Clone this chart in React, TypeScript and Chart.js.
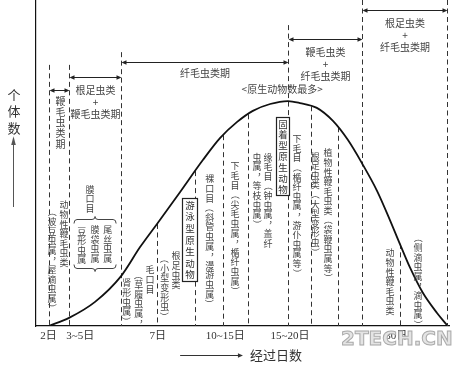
import React, { useEffect, useRef } from 'react';
import { Chart, registerables } from 'chart.js';

Chart.register(...registerables);

// ---- data (x: relative time axis 0-100, y: relative individual count 0-100) ----
const curveX = [3.1, 8.0, 14.3, 20.6, 25.2, 29.3, 34.9, 40.4, 44.6, 48.7, 52.5, 56.7, 61.0, 63.9, 68.0, 71.9, 75.5, 78.9, 82.6, 85.7, 88.1, 90.6, 93.7, 97.1, 99.5];
const curveY = [0, 2.5, 7.4, 15.3, 24.2, 31.3, 41.1, 50.9, 57.7, 62.6, 66.0, 68.1, 69.0, 68.4, 66.9, 62.9, 57.1, 50.0, 41.4, 32.5, 25.2, 17.8, 10.1, 4.0, 0.3];

const tickValues = [3.0, 10.7, 29.5, 45.8, 61.5, 87.2];
const tickLabels = ['2日', '3~5日', '7日', '10~15日', '15~20日', '30日'];

const boundaryX = [3.1, 8.0, 20.6, 29.3, 38.5, 45.3, 51.3, 61.0, 66.6, 73.1, 78.9, 88.1, 99.5];
// null = the dashed line starts on the curve
const boundaryTop: (number | null)[] = [80.1, 80.1, 84.0, null, null, null, null, 92.3, null, null, 100, null, 100];

const periodFrom = [3.1, 8.0, 20.6, 61.0, 78.9];
const periodTo = [8.0, 20.6, 61.0, 78.9, 99.5];
const periodLevel = [72.4, 76.4, 81.0, 88.0, 96.9];
const periodLabels = [
  ['鞭毛虫类期'],
  ['根足虫类', '+', '鞭毛虫类期'],
  ['纤毛虫类期'],
  ['鞭毛虫类', '+', '纤毛虫类期'],
  ['根足虫类', '+', '纤毛虫类期'],
];

const peakLabel = '<原生动物数最多>';
const yTitle = '个体数';
const xTitle = '经过日数';

// vertical column labels: [text, x, y of first character]
const columnLabels: [string, number, number][] = [
  ['动物性鞭毛虫类', 6.8, 37.1],
  ['（波豆虫属，屋滴虫属）', 3.9, 35.0],
  ['膜口目', 13.1, 42.0],
  ['豆形虫属', 11.1, 29.1],
  ['膜袋虫属', 14.3, 29.6],
  ['尾丝虫属', 17.4, 29.6],
  ['毛口目', 27.6, 17.2],
  ['（草履虫属，', 24.9, 15.6],
  ['肾形虫属）', 22.0, 13.2],
  ['根足虫类', 33.9, 21.5],
  ['（小型变形虫）', 31.2, 20.6],
  ['裸口目（斜管虫属，漫游虫属）', 42.1, 45.1],
  ['下毛目（尖毛虫属，楯纤虫属）', 48.2, 49.1],
  ['缘毛目（钟虫属，盖纤', 56.2, 51.8],
  ['虫属，等枝虫属）', 53.5, 51.8],
  ['下毛目（楯纤虫属，游仆虫属等）', 63.2, 57.4],
  ['根足虫类（大型变形虫）', 67.6, 52.1],
  ['植物性鞭毛虫类（袋鞭虫属等）', 70.7, 53.1],
  ['动物性鞭毛虫类', 85.7, 22.4],
  ['（侧滴虫属，滴虫属）', 92.5, 27.0],
];

// boxed labels: [text, x1, x2, yTop, yBottom]
const boxedLabels: [string, number, number, number, number][] = [
  ['游泳型原生动物', 35.4, 39.0, 39.3, 13.8],
  ['固着型原生动物', 58.1, 61.3, 64.1, 40.2],
];

const CJK = "'Noto Sans CJK SC', sans-serif";

function curveAt(x: number): number {
  for (let i = 0; i < curveX.length - 1; i++) {
    if (x >= curveX[i] && x <= curveX[i + 1]) {
      const t = (x - curveX[i]) / (curveX[i + 1] - curveX[i]);
      return curveY[i] + t * (curveY[i + 1] - curveY[i]);
    }
  }
  return 0;
}

function vText(ctx: CanvasRenderingContext2D, text: string, x: number, y: number, step: number) {
  let cy = y;
  for (const ch of Array.from(text)) {
    if (ch === '（' || ch === '）') {
      ctx.save();
      ctx.translate(x, cy);
      ctx.rotate(Math.PI / 2);
      ctx.fillText(ch, 0, 0);
      ctx.restore();
    } else if (ch === '，') {
      ctx.fillText(ch, x + step * 0.5, cy - step * 0.45);
    } else {
      ctx.fillText(ch, x, cy);
    }
    cy += step;
  }
}

function hArrow(ctx: CanvasRenderingContext2D, x1: number, x2: number, y: number, left: boolean, right: boolean) {
  const hl = 5, hw = 2.2;
  ctx.beginPath();
  ctx.moveTo(x1 + (left ? 2 : 0), y);
  ctx.lineTo(x2 - (right ? 2 : 0), y);
  ctx.stroke();
  if (left) {
    ctx.beginPath();
    ctx.moveTo(x1, y);
    ctx.lineTo(x1 + hl, y - hw);
    ctx.lineTo(x1 + hl, y + hw);
    ctx.closePath();
    ctx.fill();
  }
  if (right) {
    ctx.beginPath();
    ctx.moveTo(x2, y);
    ctx.lineTo(x2 - hl, y - hw);
    ctx.lineTo(x2 - hl, y + hw);
    ctx.closePath();
    ctx.fill();
  }
}

const annotations = {
  id: 'annotations',
  beforeDatasetsDraw(chart: any) {
    const ctx: CanvasRenderingContext2D = chart.ctx;
    const xs = chart.scales.x, ys = chart.scales.y;
    ctx.save();
    ctx.strokeStyle = '#333';
    ctx.lineWidth = 1;
    ctx.setLineDash([5, 3.5]);
    boundaryX.forEach((bx, i) => {
      const top = boundaryTop[i] ?? curveAt(bx);
      const px = Math.round(xs.getPixelForValue(bx)) + 0.5;
      ctx.beginPath();
      ctx.moveTo(px, ys.getPixelForValue(top));
      ctx.lineTo(px, ys.getPixelForValue(0));
      ctx.stroke();
    });
    ctx.restore();
  },
  afterDraw(chart: any) {
    const ctx: CanvasRenderingContext2D = chart.ctx;
    const xs = chart.scales.x, ys = chart.scales.y;
    const X = (v: number) => xs.getPixelForValue(v);
    const Y = (v: number) => ys.getPixelForValue(v);
    const area = chart.chartArea;
    ctx.save();
    ctx.textAlign = 'center';
    ctx.textBaseline = 'middle';

    // tick labels of the time axis (positions from the x scale)
    ctx.fillStyle = '#333';
    ctx.font = "11px 'Liberation Serif', 'Noto Sans CJK SC', serif";
    xs.ticks.forEach((t: any, i: number) => {
      ctx.fillText(tickLabels[i], X(t.value), area.bottom + 10.5);
    });

    // period arrows
    ctx.strokeStyle = '#222';
    ctx.lineWidth = 1;
    periodFrom.forEach((f, i) => {
      const x1 = Math.round(X(f)) + 0.5, x2 = Math.round(X(periodTo[i])) + 0.5;
      const y = Math.round(Y(periodLevel[i])) + 0.5;
      ctx.fillStyle = '#222';
      hArrow(ctx, x1, x2, y, true, true);
      ctx.fillStyle = '#444';
      ctx.font = `10px ${CJK}`;
      if (i === 0) {
        vText(ctx, periodLabels[i][0], (x1 + x2) / 2 + 1, y + 11, 10.6);
      } else {
        const cx = (x1 + x2) / 2;
        const lines = periodLabels[i];
        if (lines.length === 1) {
          ctx.fillText(lines[0], cx, y + 11);
        } else {
          lines.forEach((ln, k) => ctx.fillText(ln, cx, y + 12.5 + k * 12));
        }
      }
    });

    // peak label
    ctx.fillStyle = '#444';
    ctx.font = `10px ${CJK}`;
    ctx.fillText(peakLabel, X(59.6), Y(72.7));

    // column labels
    ctx.font = `9px ${CJK}`;
    columnLabels.forEach(([t, x, y]) => vText(ctx, t, X(x), Y(y), 9.6));

    // braces around the 膜口目 genera
    ctx.strokeStyle = '#444';
    ctx.lineWidth = 1;
    const bx1 = X(9.2), bx2 = X(19.4), bm = (bx1 + bx2) / 2;
    const byT = Math.round(Y(32.8)) + 0.5, byB = Math.round(Y(17.8)) + 0.5;
    ctx.beginPath();
    ctx.moveTo(bx1, byT + 4);
    ctx.quadraticCurveTo(bx1, byT, bx1 + 3, byT);
    ctx.lineTo(bm - 3, byT);
    ctx.quadraticCurveTo(bm, byT, bm, byT - 3);
    ctx.quadraticCurveTo(bm, byT, bm + 3, byT);
    ctx.lineTo(bx2 - 3, byT);
    ctx.quadraticCurveTo(bx2, byT, bx2, byT + 4);
    ctx.stroke();
    ctx.beginPath();
    ctx.moveTo(bx1, byB - 4);
    ctx.quadraticCurveTo(bx1, byB, bx1 + 3, byB);
    ctx.lineTo(bm - 3, byB);
    ctx.quadraticCurveTo(bm, byB, bm, byB + 3);
    ctx.quadraticCurveTo(bm, byB, bm + 3, byB);
    ctx.lineTo(bx2 - 3, byB);
    ctx.quadraticCurveTo(bx2, byB, bx2, byB - 4);
    ctx.stroke();

    // boxed labels
    boxedLabels.forEach(([t, x1, x2, yt, yb]) => {
      const l = Math.round(X(x1)) + 0.5, r = Math.round(X(x2)) + 0.5;
      const top = Math.round(Y(yt)) + 0.5, bot = Math.round(Y(yb)) + 0.5;
      ctx.fillStyle = '#fff';
      ctx.fillRect(l, top, r - l, bot - top);
      ctx.strokeStyle = '#222';
      ctx.lineWidth = 1.2;
      ctx.strokeRect(l, top, r - l, bot - top);
      ctx.fillStyle = '#333';
      ctx.font = `9.5px ${CJK}`;
      const n = Array.from(t).length;
      const step = (bot - top - 2) / n;
      vText(ctx, t, (l + r) / 2, top + 1 + step / 2, step);
    });

    // y title with upward arrow
    ctx.fillStyle = '#333';
    ctx.font = `13px ${CJK}`;
    const yx = area.left - 22;
    vText(ctx, yTitle, yx, Y(70.9), 16.5);
    ctx.strokeStyle = '#555';
    ctx.fillStyle = '#555';
    ctx.lineWidth = 1;
    ctx.beginPath();
    ctx.moveTo(yx - 0.5, Y(36.5));
    ctx.lineTo(yx - 0.5, Y(56.5));
    ctx.stroke();
    ctx.beginPath();
    ctx.moveTo(yx - 0.5, Y(58.2));
    ctx.lineTo(yx - 2.8, Y(55.5));
    ctx.lineTo(yx + 1.8, Y(55.5));
    ctx.closePath();
    ctx.fill();

    // x title with arrow
    const xy = Math.round(area.bottom + 29) + 0.5;
    ctx.strokeStyle = '#333';
    ctx.fillStyle = '#333';
    hArrow(ctx, X(34.9), X(50.1), xy, false, true);
    ctx.textAlign = 'left';
    ctx.font = `13px ${CJK}`;
    ctx.fillText(xTitle, X(51.8), xy);

    // watermark
    ctx.font = "bold 20px 'DejaVu Sans', sans-serif";
    ctx.textAlign = 'left';
    ctx.fillStyle = '#e4e4e4';
    ctx.strokeStyle = '#aaaaaa';
    ctx.lineWidth = 1;
    ctx.fillText('2TECH.CN', 341, 340);
    ctx.strokeText('2TECH.CN', 341, 340);

    ctx.restore();
  },
};

export default function App() {
  const ref = useRef<HTMLCanvasElement | null>(null);
  useEffect(() => {
    document.body.style.margin = '0';
    const canvas = ref.current;
    if (!canvas) return;
    const chart = new Chart(canvas, {
      type: 'line',
      data: {
        datasets: [
          {
            data: curveX.map((x, i) => ({ x, y: curveY[i] })),
            borderColor: '#111',
            borderWidth: 1.8,
            pointRadius: 0,
            fill: false,
            cubicInterpolationMode: 'monotone',
          },
        ],
      },
      options: {
        animation: false,
        responsive: false,
        devicePixelRatio: 1,
        layout: { padding: { left: 36, right: 12, top: 0, bottom: 40 } },
        plugins: { legend: { display: false }, tooltip: { enabled: false } },
        scales: {
          x: {
            type: 'linear',
            min: 0,
            max: 100,
            grid: { display: false, drawTicks: false },
            border: { display: true, color: '#111', width: 1.2 },
            afterBuildTicks: (axis: any) => {
              axis.ticks = tickValues.map((v) => ({ value: v }));
            },
            ticks: { display: false, autoSkip: false },
          },
          y: {
            min: 0,
            max: 100,
            grid: { display: false, drawTicks: false },
            ticks: { display: false },
            border: { display: true, color: '#111', width: 1.2 },
          },
        },
      } as any,
      plugins: [annotations],
    });
    return () => chart.destroy();
  }, []);
  return <canvas ref={ref} width={461} height={366} style={{ display: 'block' }} />;
}
